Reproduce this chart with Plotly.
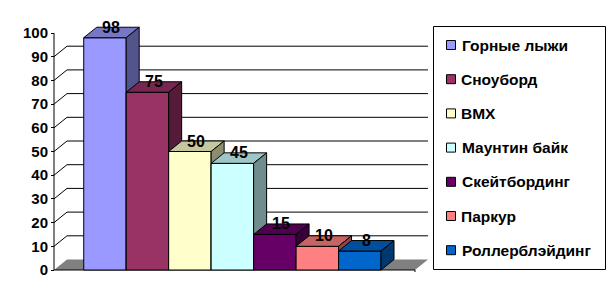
import plotly.graph_objects as go

# ---- data ----
categories = ["Горные лыжи", "Сноуборд", "BMX", "Маунтин байк",
              "Скейтбординг", "Паркур", "Роллерблэйдинг"]
values = [98, 75, 50, 45, 15, 10, 8]
y_ticks = [0, 10, 20, 30, 40, 50, 60, 70, 80, 90, 100]
back_grid = [10, 20, 30, 40, 50, 60, 70, 80, 90]

# ---- style ----
front_colors = ["#9999FF", "#993366", "#FFFFCC", "#CCFFFF", "#660066", "#FF8080", "#0066CC"]


def shade(hexc, f):
    h = hexc.lstrip("#")
    r, g, b = (int(h[k:k + 2], 16) for k in (0, 2, 4))
    return "#%02X%02X%02X" % (int(r * f), int(g * f), int(b * f))


W, H = 612, 304
L, R = 50, 432          # plot area pixel extents
T, B = 8, 272
PXU = 42.47             # px per bar unit
PYU = 2.37              # px per value unit
AX_PX, ZERO_PY = 54, 270
xa = -0.7               # front-left x of floor (data units)
xe = 7.8                # front-right x of floor
DX = 13 / PXU           # depth offset
DY = 10.5 / PYU

x0 = xa - (AX_PX - L) / PXU
x1 = xa + (R - AX_PX) / PXU
y0 = -(B - ZERO_PY) / PYU
y1 = (ZERO_PY - T) / PYU

FONT = "Arial, Liberation Sans, sans-serif"

fig = go.Figure()
shapes = []

# floor
shapes.append(dict(type="path", xref="x", yref="y", layer="below",
                   path=f"M{xa},0 L{xe},0 L{xe+DX},{DY} L{xa+DX},{DY} Z",
                   fillcolor="#808080", line=dict(width=0)))
# back-wall gridlines with diagonals
for v in back_grid:
    shapes.append(dict(type="path", xref="x", yref="y", layer="below",
                       path=f"M{xa},{v} L{xa+DX},{v+DY} L{xe+DX},{v+DY}",
                       line=dict(color="black", width=1)))
# front axis lines
shapes.append(dict(type="line", xref="x", yref="y", layer="below",
                   x0=xa, x1=xa, y0=0, y1=100, line=dict(color="black", width=1)))
shapes.append(dict(type="line", xref="x", yref="y", layer="below",
                   x0=xa, x1=xe, y0=0, y1=0, line=dict(color="black", width=1)))
shapes.append(dict(type="line", xref="x", yref="y", layer="below",
                   x0=xe, x1=xe, y0=0, y1=-3 / PYU, line=dict(color="black", width=1)))

# bars (front, top, side)
for i, (name, v, c) in enumerate(zip(categories, values, front_colors)):
    fig.add_trace(go.Scatter(x=[i, i + 1, i + 1, i, i], y=[0, 0, v, v, 0],
                             mode="lines", fill="toself", fillcolor=c,
                             line=dict(color="black", width=1), name=name,
                             showlegend=False, hoverinfo="skip"))
    fig.add_trace(go.Scatter(x=[i, i + 1, i + 1 + DX, i + DX, i],
                             y=[v, v, v + DY, v + DY, v],
                             mode="lines", fill="toself", fillcolor=shade(c, 0.78),
                             line=dict(color="black", width=1),
                             showlegend=False, hoverinfo="skip"))
    fig.add_trace(go.Scatter(x=[i + 1, i + 1 + DX, i + 1 + DX, i + 1, i + 1],
                             y=[0, DY, v + DY, v, 0],
                             mode="lines", fill="toself", fillcolor=shade(c, 0.55),
                             line=dict(color="black", width=1),
                             showlegend=False, hoverinfo="skip"))

annotations = []
for i, v in enumerate(values):
    annotations.append(dict(x=i + 0.5 + DX / 2, y=v + DY, xref="x", yref="y",
                            text=str(v), showarrow=False, yanchor="middle",
                            xanchor="center",
                            font=dict(family=FONT, size=16, color="black", weight="bold")))


# manual legend
def px_x(px):
    return (px - L) / (R - L)


def px_y(py):
    return (B - py) / (B - T)


shapes.append(dict(type="rect", xref="paper", yref="paper",
                   x0=px_x(433.5), x1=px_x(605.5), y0=px_y(269.5), y1=px_y(26.5),
                   line=dict(color="black", width=1), fillcolor="white"))
for k, (name, c) in enumerate(zip(categories, front_colors)):
    cy = 45 + k * 34.2
    shapes.append(dict(type="rect", xref="paper", yref="paper",
                       x0=px_x(446.5), x1=px_x(455.5), y0=px_y(cy + 4.5), y1=px_y(cy - 4.5),
                       line=dict(color="black", width=1), fillcolor=c))
    annotations.append(dict(x=px_x(459.5), y=px_y(cy), xref="paper", yref="paper",
                            text=name, showarrow=False, xanchor="left", yanchor="middle",
                            font=dict(family=FONT, size=15.5, color="black", weight="bold")))

fig.update_layout(
    width=W, height=H,
    margin=dict(l=L, r=W - R, t=T, b=H - B, pad=0),
    paper_bgcolor="white", plot_bgcolor="white",
    showlegend=False,
    shapes=shapes, annotations=annotations,
    xaxis=dict(range=[x0, x1], visible=False, fixedrange=True),
    yaxis=dict(range=[y0, y1], anchor="free", position=px_x(AX_PX),
               tickvals=y_ticks, ticktext=[str(t) for t in y_ticks],
               ticks="outside", ticklen=3, tickcolor="black", tickwidth=1,
               showline=False, showgrid=False, zeroline=False,
               tickfont=dict(family=FONT, size=15, color="black", weight="bold"),
               fixedrange=True),
)

fig.write_html("out.html")
